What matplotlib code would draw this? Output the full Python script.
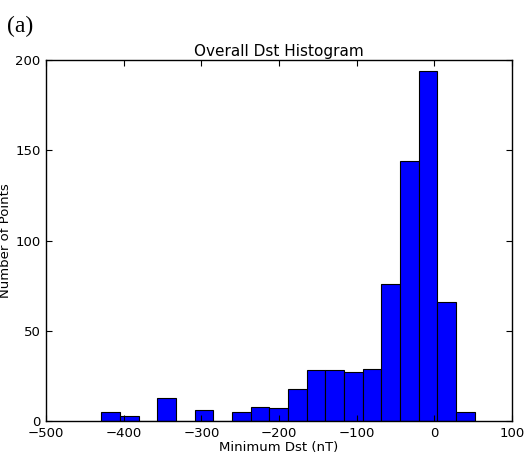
import matplotlib
matplotlib.use('Agg')
import matplotlib.pyplot as plt
import numpy as np

# histogram counts (20 equal bins)
dst_min = -429
dst_max = 52
counts = [5, 3, 0, 13, 0, 6, 0, 5, 8, 7, 18, 28, 28, 27, 29, 76, 144, 194, 66, 5]
xticks = [-500, -400, -300, -200, -100, 0, 100]
yticks = [0, 50, 100, 150, 200]

edges = np.linspace(dst_min, dst_max, len(counts) + 1)

fig = plt.figure(figsize=(5.26, 4.55), dpi=100)
ax = fig.add_axes([46/526, 1 - 421/455, 466/526, 361/455])
ax.bar(edges[:-1], counts, width=np.diff(edges), align='edge',
       color='#0000ff', edgecolor='black', linewidth=0.8)
ax.set_xlim(-500, 100)
ax.set_ylim(0, 200)
ax.set_xticks(xticks)
ax.set_yticks(yticks)
ax.tick_params(direction='in', top=True, right=True, length=4, labelsize=9.5, pad=4)
for s in ax.spines.values():
    s.set_linewidth(1.0)
ax.set_title('Overall Dst Histogram', fontsize=11, pad=3)
ax.set_xlabel('Minimum Dst (nT)', fontsize=9.5, labelpad=1)
ax.set_ylabel('Number of Points', fontsize=9.5, labelpad=2)

fig.text(7/526, 1 - 32/455, '(a)', family='Liberation Serif', fontsize=17, va='baseline')

fig.savefig('out.png', dpi=100)
